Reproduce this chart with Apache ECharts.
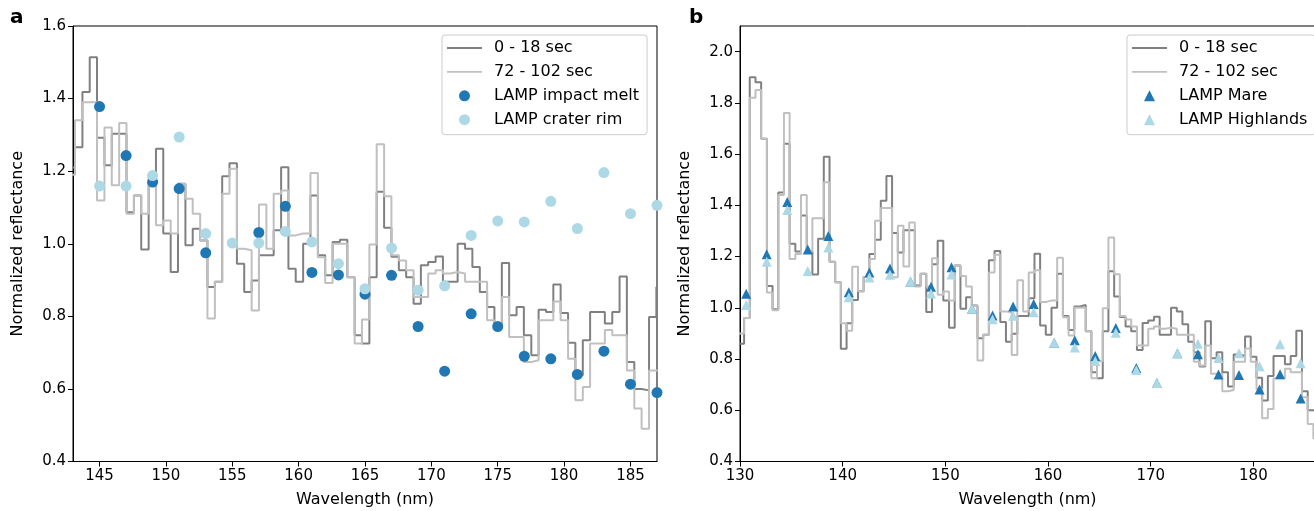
<!DOCTYPE html>
<html><head><meta charset="utf-8">
<script src="https://cdn.jsdelivr.net/npm/echarts@6/dist/echarts.min.js"></script>
<style>html,body{margin:0;padding:0;background:#fff}#c{width:1314px;height:511px}</style>
</head><body><div id="c"></div>
<script>
// ---- data ----
const binEdges = [
129.84,130.40,130.95,131.51,132.06,132.62,133.17,133.73,134.28,134.83,
135.39,135.94,136.50,137.05,137.61,138.16,138.72,139.27,139.82,140.38,
140.93,141.49,142.04,142.60,143.15,143.71,144.26,144.81,145.37,145.92,
146.48,147.03,147.59,148.14,148.70,149.25,149.80,150.36,150.91,151.47,
152.02,152.58,153.13,153.69,154.24,154.79,155.35,155.90,156.46,157.01,
157.57,158.12,158.68,159.23,159.78,160.34,160.89,161.45,162.00,162.56,
163.11,163.67,164.22,164.77,165.33,165.88,166.44,166.99,167.55,168.10,
168.66,169.21,169.76,170.32,170.87,171.43,171.98,172.54,173.09,173.65,
174.20,174.75,175.31,175.86,176.42,176.97,177.53,178.08,178.64,179.19,
179.74,180.30,180.85,181.41,181.96,182.52,183.07,183.63,184.18,184.73,
185.29,185.84,186.40,186.95,187.51];
const spec0to18 = [
0.86,0.96,1.90,1.88,1.66,1.085,0.994,1.45,1.64,1.25,
1.22,1.36,1.22,1.13,1.27,1.59,1.18,1.10,0.84,0.94,
1.03,1.065,1.12,1.21,1.266,1.418,1.514,1.292,1.216,1.303,
1.303,1.087,1.133,0.984,1.17,1.262,1.028,0.922,1.165,0.996,
1.041,1.009,0.881,0.895,1.186,1.222,0.945,0.867,0.899,0.968,
0.968,1.037,1.211,0.931,0.895,1.0,1.133,0.968,0.913,1.005,
1.011,0.908,0.748,0.725,0.908,1.143,1.044,0.964,0.927,0.908,
0.835,0.941,0.95,0.965,0.895,0.895,1.0,0.986,0.936,0.867,
0.826,0.771,0.947,0.803,0.826,0.748,0.693,0.818,0.812,0.888,
0.809,0.727,0.638,0.734,0.812,0.812,0.78,0.812,0.910,0.674,
0.60,0.596,0.798,0.880];
const spec72to102 = [
0.90,0.96,1.82,1.85,1.66,1.06,0.99,1.44,1.76,1.19,
1.21,1.44,1.22,1.35,1.35,1.49,1.18,1.10,0.94,0.91,
1.16,1.065,1.12,1.19,1.34,1.39,1.39,1.119,1.32,1.161,
1.333,1.083,1.133,1.083,1.193,1.051,1.064,1.028,1.165,1.124,
1.083,1.009,0.794,0.895,1.138,1.207,0.986,0.982,0.816,1.108,
0.986,1.138,1.147,1.023,1.028,1.028,1.195,0.963,0.892,1.0,
1.0,0.908,0.725,0.791,0.998,1.274,1.131,0.968,0.954,0.927,
0.853,0.853,0.918,0.927,0.918,0.922,0.918,0.895,0.895,0.895,
0.789,0.775,0.853,0.743,0.743,0.674,0.679,0.789,0.789,0.841,
0.789,0.683,0.569,0.605,0.725,0.725,0.762,0.748,0.748,0.651,
0.546,0.490,0.651,0.651];

const meltWl = [145,147,149,151,153,155,157,159,161,163,165,167,169,171,173,175,177,179,181,183,185,187];
const impactMelt = [1.378,1.243,1.170,1.152,0.975,null,1.031,1.103,0.921,0.914,0.861,0.913,0.772,0.649,0.807,0.772,0.690,0.683,0.640,0.704,0.613,0.590];
const craterRim  = [1.159,1.159,1.188,1.294,1.028,1.002,1.002,1.034,1.005,0.945,0.876,0.988,0.872,0.884,1.023,1.063,1.060,1.117,1.042,1.196,1.083,1.106];

const lampWl = [130.6,132.6,134.6,136.6,138.6,140.6,142.6,144.6,146.6,148.6,150.6,152.6,154.6,156.6,158.6,160.6,162.6,164.6,166.6,168.6,170.6,172.6,174.6,176.6,178.6,180.6,182.6,184.6];
const lampMare = [1.055,1.209,1.413,1.228,1.280,1.061,1.138,1.153,1.103,1.082,1.158,0.996,0.970,1.005,1.015,0.864,0.873,0.812,0.921,0.765,0.706,0.823,0.819,0.740,0.738,0.681,0.741,0.646];
const lampHighlands = [1.011,1.180,1.382,1.144,1.235,1.041,1.118,1.129,1.103,1.056,1.130,0.996,0.955,0.969,0.983,0.864,0.845,0.792,0.903,0.757,0.706,0.823,0.860,0.804,0.823,0.772,0.858,0.784];

const xTicksA = [145,150,155,160,165,170,175,180,185];
const xTicksB = [130,140,150,160,170,180];
const yTicksA = [0.4,0.6,0.8,1.0,1.2,1.4,1.6];
const yTicksB = [0.4,0.6,0.8,1.0,1.2,1.4,1.6,1.8,2.0];

// ---- helpers ----
const F = 'DejaVu Sans';
function stepPairs(vals){ return binEdges.map((e,i)=>[e, i < vals.length ? vals[i] : vals[vals.length-1]]); }
function pairs(xs, ys){ return xs.map((x,i)=>[x, ys[i]]); }
const DARK = '#808080', LIGHT = '#c0c0c0', BLUE = '#1f77b4', LBLUE = '#add8e6';
const LINE_ICON = 'path://M0,0H36V2H0Z';
const TRI_ICON = 'path://M5,0L10,10L0,10Z';

function xAx(g, min, max, ticks){
  return {type:'value', gridIndex:g, min:min, max:max,
    axisLine:{show:true, onZero:false, lineStyle:{color:'#000', width:1}},
    axisTick:{show:true, customValues:ticks, length:5, lineStyle:{color:'#000', width:1}},
    axisLabel:{customValues:ticks, color:'#000', fontSize:15, fontFamily:F, margin:7},
    splitLine:{show:false},
    name:'Wavelength (nm)', nameLocation:'middle', nameGap:30,
    nameTextStyle:{color:'#000', fontSize:16, fontFamily:F}};
}
function yAx(g, min, max, ticks){
  return {type:'value', gridIndex:g, min:min, max:max,
    axisLine:{show:true, onZero:false, lineStyle:{color:'#000', width:1}},
    axisTick:{show:true, customValues:ticks, length:5, lineStyle:{color:'#000', width:1}},
    axisLabel:{customValues:ticks, color:'#000', fontSize:15, fontFamily:F, margin:7,
      formatter:v=>Number(v).toFixed(1)},
    splitLine:{show:false},
    name:'Normalized reflectance', nameLocation:'middle', nameGap:47,
    nameTextStyle:{color:'#000', fontSize:16, fontFamily:F}};
}
function stepLine(name, vals, color, g){
  return {name:name, type:'line', step:'end', xAxisIndex:g, yAxisIndex:g,
    data:stepPairs(vals), symbol:'none', showSymbol:false,
    lineStyle:{color:color, width:2}, itemStyle:{color:color},
    animation:false, z:2};
}
function scat(name, xs, ys, color, sym, size, g){
  return {name:name, type:'scatter', xAxisIndex:g, yAxisIndex:g,
    data:pairs(xs, ys), symbol:sym, symbolSize:size,
    itemStyle:{color:color, opacity:1}, animation:false, z:3};
}
function legendAt(left, n3, n4, sym){
  return {orient:'vertical', left:left, top:35,
    data:[{name:'0 - 18 sec', icon:LINE_ICON},{name:'72 - 102 sec', icon:LINE_ICON},
          {name:n3, icon:sym},{name:n4, icon:sym}],
    itemWidth:35, itemHeight:11, itemGap:7.9, symbolKeepAspect:true,
    padding:[5,8,7,5],
    backgroundColor:'rgba(255,255,255,0.8)', borderColor:'#cccccc', borderWidth:1, borderRadius:3,
    textStyle:{color:'#000', fontSize:16, fontFamily:F, lineHeight:16, padding:[0,0,0,7]},
    selectedMode:false};
}

const chart = echarts.init(document.getElementById('c'), null, {renderer:'canvas'});
chart.setOption({
  animation:false,
  backgroundColor:'#fff',
  grid:[
    {left:73, top:26, width:584, height:435.5, show:true, borderColor:'#000', borderWidth:1, outerBoundsMode:'none'},
    {left:740, top:26, width:575, height:435.5, show:true, borderColor:'#000', borderWidth:1, outerBoundsMode:'none'}
  ],
  xAxis:[ xAx(0,143,187,xTicksA), xAx(1,130,186,xTicksB) ],
  yAxis:[ yAx(0,0.4,1.6,yTicksA), yAx(1,0.4,2.1,yTicksB) ],
  legend:[
    legendAt(442, 'LAMP impact melt', 'LAMP crater rim', 'circle'),
    legendAt(1127, 'LAMP Mare', 'LAMP Highlands', TRI_ICON)
  ],
  graphic:[
    {type:'text', left:10, top:8, style:{text:'a', font:'bold 20px "DejaVu Sans"', fill:'#000'}},
    {type:'text', left:689, top:8, style:{text:'b', font:'bold 20px "DejaVu Sans"', fill:'#000'}}
  ],
  series:[
    stepLine('0 - 18 sec', spec0to18, DARK, 0),
    stepLine('72 - 102 sec', spec72to102, LIGHT, 0),
    scat('LAMP impact melt', meltWl, impactMelt, BLUE, 'circle', 11, 0),
    scat('LAMP crater rim', meltWl, craterRim, LBLUE, 'circle', 11, 0),
    stepLine('0 - 18 sec', spec0to18, DARK, 1),
    stepLine('72 - 102 sec', spec72to102, LIGHT, 1),
    scat('LAMP Mare', lampWl, lampMare, BLUE, 'triangle', 10, 1),
    scat('LAMP Highlands', lampWl, lampHighlands, LBLUE, 'triangle', 10, 1)
  ]
});
</script></body></html>
